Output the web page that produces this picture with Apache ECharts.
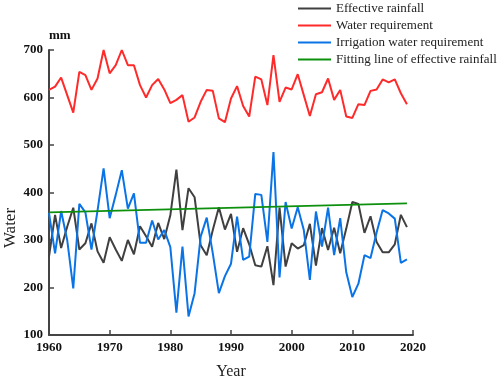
<!DOCTYPE html>
<html><head><meta charset="utf-8">
<script src="https://cdn.jsdelivr.net/npm/echarts@6/dist/echarts.min.js"></script>
<style>html,body{margin:0;padding:0;background:#fff}#c{width:498px;height:379px}</style>
</head><body><div id="c"></div>
<script>
const years = [1960,1961,1962,1963,1964,1965,1966,1967,1968,1969,
  1970,1971,1972,1973,1974,1975,1976,1977,1978,1979,
  1980,1981,1982,1983,1984,1985,1986,1987,1988,1989,
  1990,1991,1992,1993,1994,1995,1996,1997,1998,1999,
  2000,2001,2002,2003,2004,2005,2006,2007,2008,2009,
  2010,2011,2012,2013,2014,2015,2016,2017,2018,2019];
const effectiveRainfall = [265,353,283,328,368,280,293,335,276,252,
  306,280,256,300,270,329,308,286,336,302,
  352,448,321,409,390,289,268,321,369,322,
  355,275,325,291,247,244,287,205,368,244,
  293,282,289,334,246,325,279,326,272,324,
  380,376,315,350,296,274,274,291,353,327];
const waterRequirement = [616,623,642,605,568,654,647,616,640,700,
  651,668,700,668,668,626,600,626,639,617,
  588,595,605,549,558,591,616,614,556,548,
  598,624,582,560,644,638,584,689,591,621,
  617,649,605,561,607,611,640,595,616,560,
  557,586,584,614,617,638,632,638,609,586];
const irrigationRequirement = [357,272,361,300,198,376,358,280,362,451,
  346,395,447,366,398,294,294,341,301,321,
  285,147,286,139,188,307,347,272,188,224,
  250,349,258,265,397,395,296,485,221,380,
  324,369,321,216,360,286,368,268,346,232,
  180,208,268,262,316,363,356,345,252,259];
const fitYears = [1960, 2019];
const fitValues = [358, 377];
const seriesNames = ['Effective rainfall','Water requirement','Irrigation water requirement','Fitting line of effective rainfall'];
const xTicks = {min:1960, max:2020, step:10};
const yTicks = {min:100, max:700, step:100};

const pair = (xs, vs) => xs.map((x, i) => [x, vs[i]]);
const serif = '"Liberation Serif","Times New Roman",serif';
const axisCol = '#444';
const chart = echarts.init(document.getElementById('c'));
chart.setOption({
  animation: false,
  backgroundColor: '#fff',
  grid: {left: 49, right: 85, top: 50, bottom: 44, containLabel: false, outerBoundsMode: 'none'},
  legend: {
    orient: 'vertical', left: 298, top: 2, padding: 0, icon: 'rect', itemWidth: 33, itemHeight: 2, itemGap: 4,
    textStyle: {fontFamily: serif, fontSize: 13, color: '#222', lineHeight: 13},
    data: seriesNames
  },
  xAxis: {
    type: 'value', min: xTicks.min, max: xTicks.max, interval: xTicks.step,
    axisLine: {lineStyle: {color: axisCol, width: 2}},
    axisTick: {inside: true, length: 5, lineStyle: {color: axisCol, width: 1.5}},
    splitLine: {show: false},
    axisLabel: {fontFamily: serif, fontWeight: 'bold', fontSize: 13, color: '#111', margin: 6, formatter: v => String(v)},
    name: 'Year', nameLocation: 'middle', nameGap: 29,
    nameTextStyle: {fontFamily: serif, fontSize: 16, color: '#222'}
  },
  yAxis: {
    type: 'value', min: yTicks.min, max: yTicks.max, interval: yTicks.step,
    axisLine: {show: true, lineStyle: {color: axisCol, width: 2}},
    axisTick: {show: true, inside: true, length: 5, lineStyle: {color: axisCol, width: 1.5}},
    splitLine: {show: false},
    axisLabel: {fontFamily: serif, fontWeight: 'bold', fontSize: 13, color: '#111', margin: 6},
    name: 'mm', nameLocation: 'end', nameGap: 8,
    nameTextStyle: {fontFamily: serif, fontWeight: 'bold', fontSize: 13, color: '#111', align: 'left'}
  },
  graphic: [{
    type: 'text', x: 11, y: 228, rotation: Math.PI / 2,
    style: {text: 'Water', font: '17px ' + serif, fill: '#222', align: 'center', verticalAlign: 'middle'}
  }],
  series: [
    {name: seriesNames[0], type: 'line', symbol: 'none', data: pair(years, effectiveRainfall),
     lineStyle: {color: '#404040', width: 2}, itemStyle: {color: '#404040'}},
    {name: seriesNames[1], type: 'line', symbol: 'none', data: pair(years, waterRequirement),
     lineStyle: {color: '#ff2a2a', width: 2}, itemStyle: {color: '#ff2a2a'}},
    {name: seriesNames[2], type: 'line', symbol: 'none', data: pair(years, irrigationRequirement),
     lineStyle: {color: '#0a74e6', width: 2}, itemStyle: {color: '#0a74e6'}},
    {name: seriesNames[3], type: 'line', symbol: 'none', data: pair(fitYears, fitValues),
     lineStyle: {color: '#0d900d', width: 1.8}, itemStyle: {color: '#0d900d'}}
  ]
});
</script></body></html>
